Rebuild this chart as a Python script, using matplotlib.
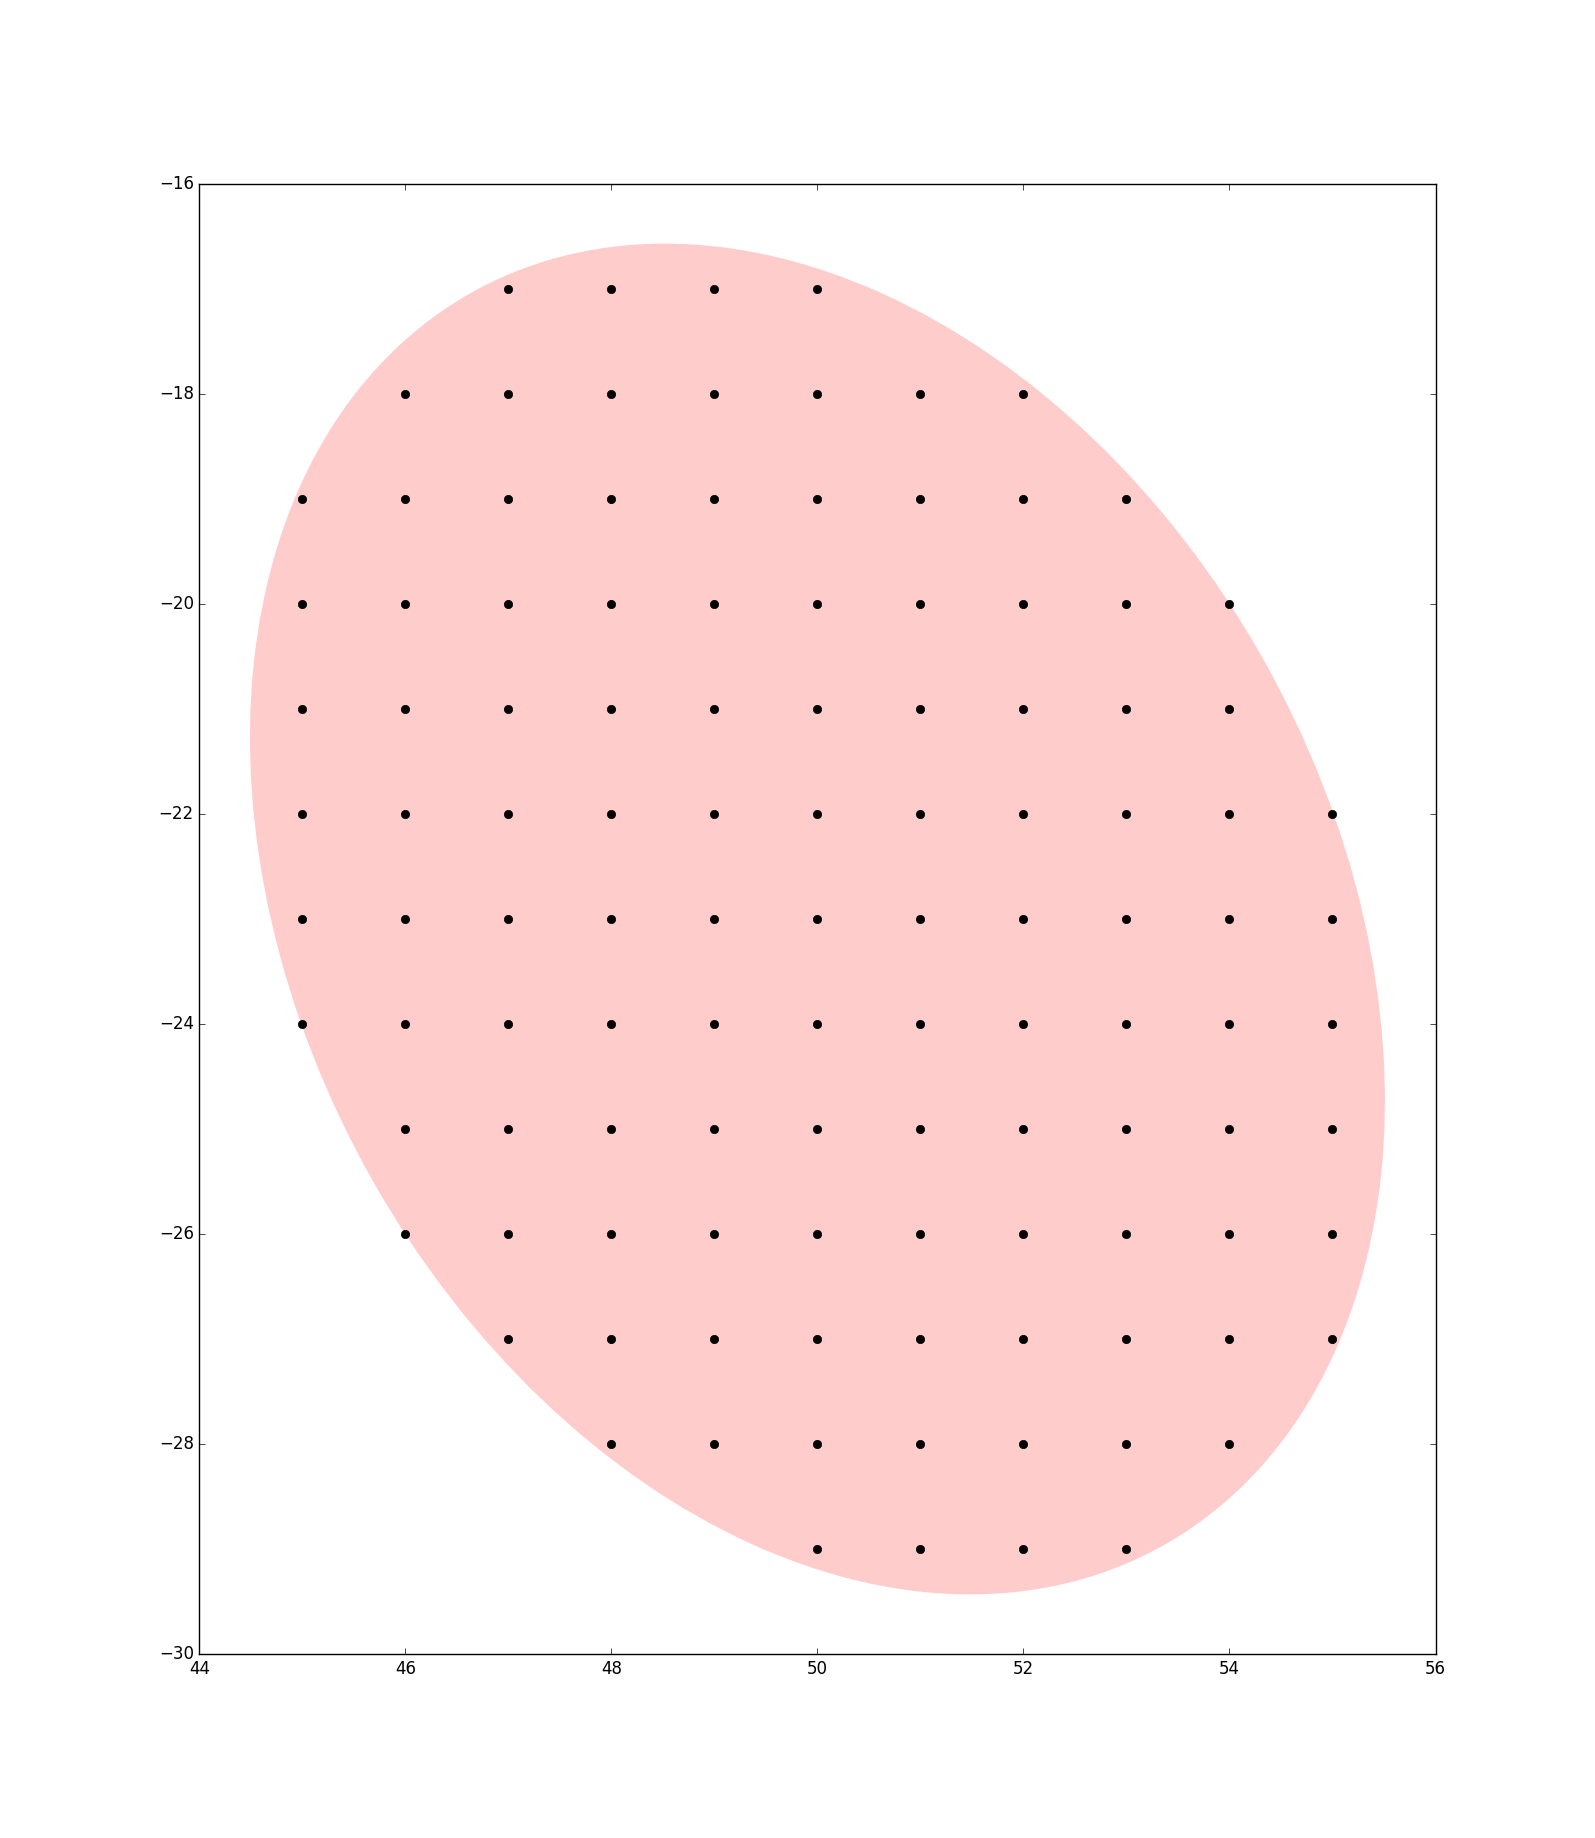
import matplotlib
matplotlib.use("Agg")
import matplotlib.pyplot as plt
from matplotlib.patches import Ellipse
import numpy as np

plt.style.use('classic')

# Grid points: for each row y, the range of x values present
row_y = [-17, -18, -19, -20, -21, -22, -23, -24, -25, -26, -27, -28, -29]
row_xmin = [47, 46, 45, 45, 45, 45, 45, 45, 46, 46, 47, 48, 50]
row_xmax = [50, 52, 53, 54, 54, 55, 55, 55, 55, 55, 55, 54, 53]

ellipse_center = (50.0, -23.0)
ellipse_width = 9.97
ellipse_height = 13.69
ellipse_angle = 30.0

xs, ys = [], []
for y, a, b in zip(row_y, row_xmin, row_xmax):
    for x in range(a, b + 1):
        xs.append(x)
        ys.append(y)

fig = plt.figure(figsize=(15.95, 18.38), dpi=100)
ax = fig.add_subplot(111)
e = Ellipse(xy=ellipse_center, width=ellipse_width, height=ellipse_height,
            angle=ellipse_angle, facecolor='red', alpha=0.2, edgecolor='none')
ax.add_patch(e)
ax.plot(xs, ys, 'ko', markersize=6)
ax.set_xlim(44, 56)
ax.set_ylim(-30, -16)
fig.savefig('out.png', dpi=100)
